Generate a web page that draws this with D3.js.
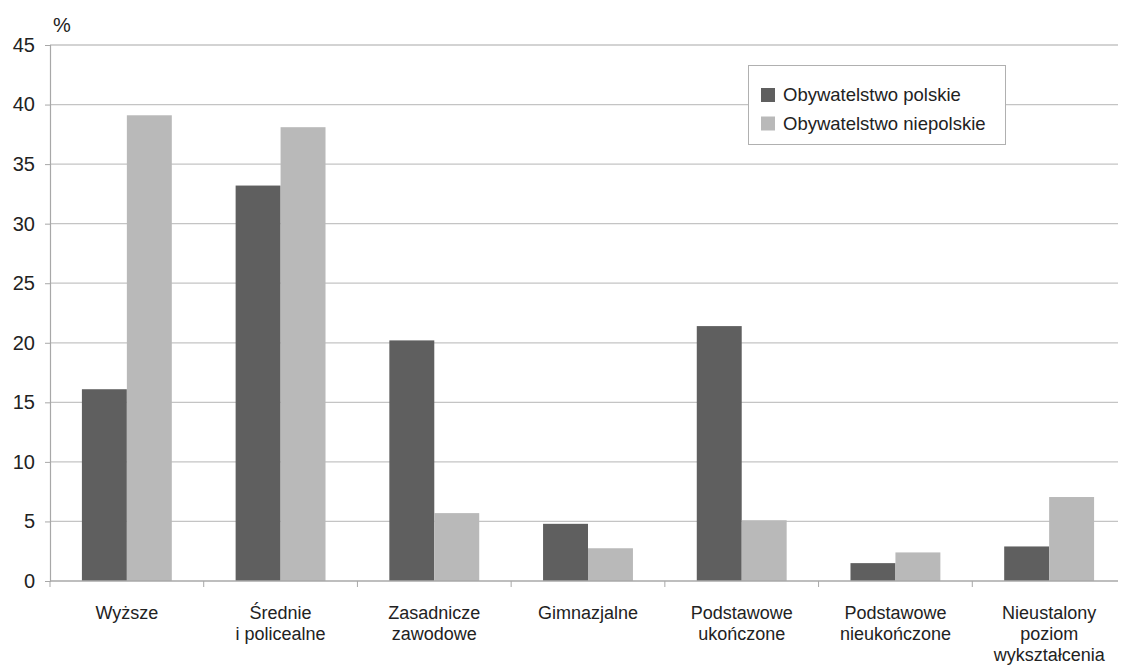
<!DOCTYPE html>
<html><head><meta charset="utf-8">
<script src="https://cdn.jsdelivr.net/npm/d3@7"></script>
<style>body{margin:0;background:#fff}svg{display:block;font-family:"Liberation Sans",Arial,sans-serif}</style>
</head><body><svg id="c" width="1123" height="666"></svg>
<script>
const categories = [["Wyższe"],["Średnie","i policealne"],["Zasadnicze","zawodowe"],["Gimnazjalne"],["Podstawowe","ukończone"],["Podstawowe","nieukończone"],["Nieustalony","poziom","wykształcenia"]];
const seriesNames = ["Obywatelstwo polskie","Obywatelstwo niepolskie"];
const polskie = [16.1, 33.2, 20.2, 4.8, 21.4, 1.5, 2.9];
const niepolskie = [39.1, 38.1, 5.7, 2.75, 5.1, 2.4, 7.05];
const yTicks = [0,5,10,15,20,25,30,35,40,45];
const colors = ["#5f5f5f","#b9b9b9"];

const svg = d3.select("#c");
const x0 = 50, x1 = 1126, yTop = 45, yBot = 581;
const idx = categories.map((d,i)=>i);
const x = d3.scaleBand().domain(idx).range([x0,x1]).paddingInner(0).paddingOuter(0);
const inner = d3.scaleBand().domain([0,1]).range([0, x.bandwidth()]).paddingInner(0).paddingOuter(0.71);
const y = d3.scaleLinear().domain([0,45]).range([yBot,yTop]);

// gridlines
svg.append("g").selectAll("line").data(yTicks.filter(t=>t>0)).join("line")
  .attr("x1",x0).attr("x2",1118).attr("y1",d=>y(d)).attr("y2",d=>y(d))
  .attr("stroke","#c4c4c4").attr("stroke-width",1.3);

// bars
const series = [polskie, niepolskie];
series.forEach((vals,s)=>{
  svg.append("g").selectAll("rect").data(vals).join("rect")
    .attr("x",(d,i)=>x(i)+inner(s)).attr("width",inner.bandwidth())
    .attr("y",d=>y(d)).attr("height",d=>y(0)-y(d)).attr("fill",colors[s]);
});

// y axis
const ya = svg.append("g").attr("transform",`translate(${x0},0)`)
  .call(d3.axisLeft(y).tickValues(yTicks).tickSize(5).tickPadding(10));
ya.select(".domain").attr("stroke","#a8a8a8").attr("stroke-width",1.2);
ya.selectAll(".tick line").attr("stroke","#a8a8a8");
ya.selectAll("text").attr("font-size",20).attr("fill","#222");

// x axis
const xa = svg.append("g").attr("transform",`translate(0,${yBot})`);
xa.append("line").attr("x1",x0).attr("x2",1118).attr("stroke","#a8a8a8").attr("stroke-width",1.3);
xa.selectAll("line.t").data(d3.range(categories.length)).join("line").attr("class","t")
  .attr("x1",d=>x(d)).attr("x2",d=>x(d)).attr("y1",0).attr("y2",6).attr("stroke","#a8a8a8");
const lab = xa.selectAll("text").data(categories).join("text")
  .attr("text-anchor","middle").attr("font-size",18).attr("fill","#222")
  .attr("transform",(d,i)=>`translate(${x(i)+x.bandwidth()/2},38)`);
lab.selectAll("tspan").data(d=>d).join("tspan").attr("x",0).attr("dy",(d,j)=>j===0?0:21).text(d=>d);

// % label
svg.append("text").attr("x",53).attr("y",32).attr("font-size",20).attr("fill","#222").text("%");

// legend
const lg = svg.append("g");
lg.append("rect").attr("x",748.5).attr("y",65.5).attr("width",257).attr("height",79)
  .attr("fill","#fff").attr("stroke","#b0b0b0").attr("stroke-width",1);
seriesNames.forEach((n,i)=>{
  lg.append("rect").attr("x",761).attr("y",88+i*28.5).attr("width",14).attr("height",14).attr("fill",colors[i]);
  lg.append("text").attr("x",783).attr("y",101+i*28.5).attr("font-size",18.5).attr("fill","#222").text(n);
});
</script></body></html>
